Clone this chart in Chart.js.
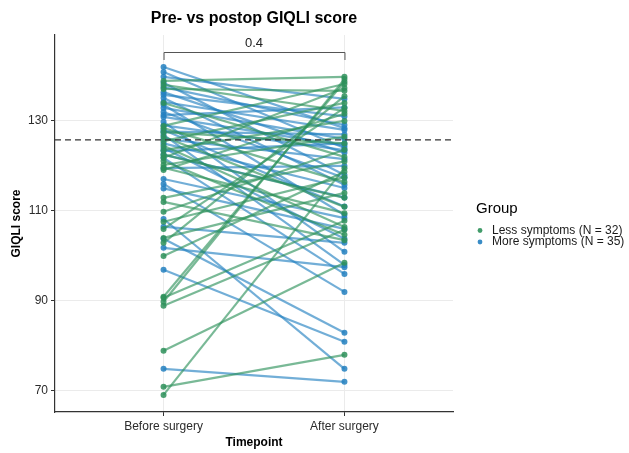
<!DOCTYPE html>
<html>
<head>
<meta charset="utf-8">
<script src="https://cdn.jsdelivr.net/npm/chart.js@4/dist/chart.umd.min.js"></script>
<style>
  html, body { margin: 0; padding: 0; background: #ffffff; }
  #wrap { width: 629px; height: 453px; }
</style>
</head>
<body>
<div id="wrap"><canvas id="chart" width="629" height="453"></canvas></div>
<script>
// Timepoints on the x axis
const categories = ['Before surgery', 'After surgery'];

// GIQLI scores per patient, paired by index (before -> after)
const lessBefore = [138.9, 138.0, 137.1, 134.0, 128.9, 128.4, 127.5, 126.5, 125.5, 124.5, 123.5, 122.5, 121.8, 121.1, 120.2, 119.6,
                    119.1, 112.9, 112.0, 109.8, 107.6, 106.0, 104.0, 102.9, 100.0, 90.9, 90.7, 89.8, 88.9, 78.9, 70.9, 69.1];
const lessAfter  = [139.8, 132.2, 136.7, 122.0, 138.2, 116.4, 125.0, 110.9, 134.0, 106.4, 130.0, 112.9, 137.3, 104.7, 126.5, 109.5,
                    131.6, 121.0, 103.5, 123.6, 117.5, 132.9, 114.0, 135.5, 118.7, 138.7, 107.8, 139.3, 105.8, 98.5, 78.0, 119.5];
const moreBefore = [142.0, 140.9, 139.8, 138.5, 137.5, 136.4, 135.8, 135.1, 134.2, 133.6, 132.9, 132.0, 131.3, 130.9, 129.8, 129.0,
                    128.0, 127.6, 126.9, 126.0, 125.0, 124.0, 123.3, 122.5, 121.8, 119.5, 117.1, 116.0, 115.0, 108.2, 106.5, 103.8,
                    101.8, 96.9, 74.9];
const moreAfter  = [128.4, 124.0, 134.9, 118.0, 129.1, 122.9, 131.0, 115.8, 128.0, 109.1, 126.0, 117.3, 133.0, 124.5, 100.9, 123.5,
                    111.0, 127.0, 98.0, 121.5, 115.1, 103.8, 125.0, 113.0, 96.0, 120.0, 108.4, 92.0, 106.0, 74.9, 102.9, 82.9,
                    97.5, 80.9, 72.0];

// Axis ticks, reference line and comparison label
const yTicks = [70, 90, 110, 130];
const referenceLine = 125.8;
const pValueLabel = '0.4';

// Group labels
const groupNames = ['Less symptoms (N = 32)', 'More symptoms (N = 35)'];
const groupColors = ['46,145,90', '35,128,192'];

const FONT = "'Liberation Sans', Arial, sans-serif";

function pairDatasets(before, after, rgb) {
  return before.map((b, i) => ({
    data: [{ x: 1, y: b }, { x: 2, y: after[i] }],
    borderColor: `rgba(${rgb},0.64)`,
    backgroundColor: `rgba(${rgb},0.85)`,
    pointBackgroundColor: `rgba(${rgb},0.85)`,
    pointBorderWidth: 0,
    pointRadius: 3,
    borderWidth: 2.2,
    tension: 0
  }));
}

const datasets = [
  ...pairDatasets(lessBefore, lessAfter, groupColors[0]),
  ...pairDatasets(moreBefore, moreAfter, groupColors[1])
];

const annotations = {
  id: 'annotations',
  afterDatasetsDraw(chart) {
    const { ctx, chartArea, scales } = chart;
    const y = scales.y.getPixelForValue(referenceLine);
    ctx.save();
    ctx.strokeStyle = '#333333';
    ctx.lineWidth = 1.3;
    ctx.setLineDash([6, 4]);
    ctx.beginPath();
    ctx.moveTo(chartArea.left, y);
    ctx.lineTo(chartArea.right, y);
    ctx.stroke();
    ctx.restore();
  },
  afterDraw(chart) {
    const { ctx, chartArea, scales } = chart;
    const cx = (chartArea.left + chartArea.right) / 2;
    ctx.save();
    ctx.fillStyle = '#000000';
    ctx.textAlign = 'center';
    ctx.textBaseline = 'middle';

    // title
    ctx.font = `bold 16px ${FONT}`;
    ctx.fillText('Pre- vs postop GIQLI score', cx, 19);

    // comparison bracket
    const x1 = scales.x.getPixelForValue(1);
    const x2 = scales.x.getPixelForValue(2);
    ctx.strokeStyle = '#555555';
    ctx.lineWidth = 1;
    ctx.beginPath();
    ctx.moveTo(x1 + 0.5, 60);
    ctx.lineTo(x1 + 0.5, 52.5);
    ctx.lineTo(x2 + 0.5, 52.5);
    ctx.lineTo(x2 + 0.5, 60);
    ctx.stroke();
    ctx.fillStyle = '#222222';
    ctx.font = `13px ${FONT}`;
    ctx.fillText(pValueLabel, (x1 + x2) / 2, 43);

    // axis titles
    ctx.fillStyle = '#000000';
    ctx.font = `bold 12px ${FONT}`;
    ctx.fillText('Timepoint', cx, 443);
    ctx.save();
    ctx.translate(17, (chartArea.top + chartArea.bottom) / 2);
    ctx.rotate(-Math.PI / 2);
    ctx.fillText('GIQLI score', 0, 0);
    ctx.restore();

    // legend
    ctx.textAlign = 'left';
    ctx.font = `15px ${FONT}`;
    ctx.fillStyle = '#000000';
    ctx.fillText('Group', 476, 209);
    ctx.font = `12px ${FONT}`;
    groupNames.forEach((name, i) => {
      const ly = 230.5 + i * 11.5;
      ctx.fillStyle = `rgba(${groupColors[i]},0.9)`;
      ctx.beginPath();
      ctx.arc(480, ly, 2.4, 0, Math.PI * 2);
      ctx.fill();
      ctx.fillStyle = '#1a1a1a';
      ctx.fillText(name, 492, ly);
    });
    ctx.restore();
  }
};

const whiteBg = {
  id: 'whiteBg',
  beforeDraw(chart) {
    const { ctx } = chart;
    ctx.save();
    ctx.fillStyle = '#ffffff';
    ctx.fillRect(0, 0, chart.width, chart.height);
    ctx.restore();
  }
};

new Chart(document.getElementById('chart'), {
  type: 'line',
  data: { datasets },
  options: {
    responsive: false,
    animation: false,
    layout: { padding: { top: 35, right: 176, left: 0, bottom: 0 } },
    plugins: { legend: { display: false }, tooltip: { enabled: false }, title: { display: false } },
    scales: {
      x: {
        type: 'linear',
        min: 0.4,
        max: 2.6,
        afterBuildTicks: s => { s.ticks = [{ value: 1 }, { value: 2 }]; },
        afterFit: s => { s.height = 41; },
        ticks: {
          callback: v => categories[v - 1],
          autoSkip: false,
          maxRotation: 0,
          padding: 3,
          color: '#2b2b2b',
          font: { family: FONT, size: 12 }
        },
        grid: { color: '#ebebeb', lineWidth: 1, tickColor: '#333333', tickLength: 4, drawTicks: true },
        border: { display: true, color: '#333333', width: 1.2 }
      },
      y: {
        min: 65.3,
        max: 149.1,
        afterBuildTicks: s => { s.ticks = yTicks.map(v => ({ value: v })); },
        afterFit: s => { s.width = 55; },
        ticks: {
          padding: 3,
          color: '#2b2b2b',
          font: { family: FONT, size: 12 }
        },
        grid: { color: '#ebebeb', lineWidth: 1, tickColor: '#333333', tickLength: 4, drawTicks: true },
        border: { display: true, color: '#333333', width: 1.2 }
      }
    }
  },
  plugins: [whiteBg, annotations]
});
</script>
</body>
</html>
